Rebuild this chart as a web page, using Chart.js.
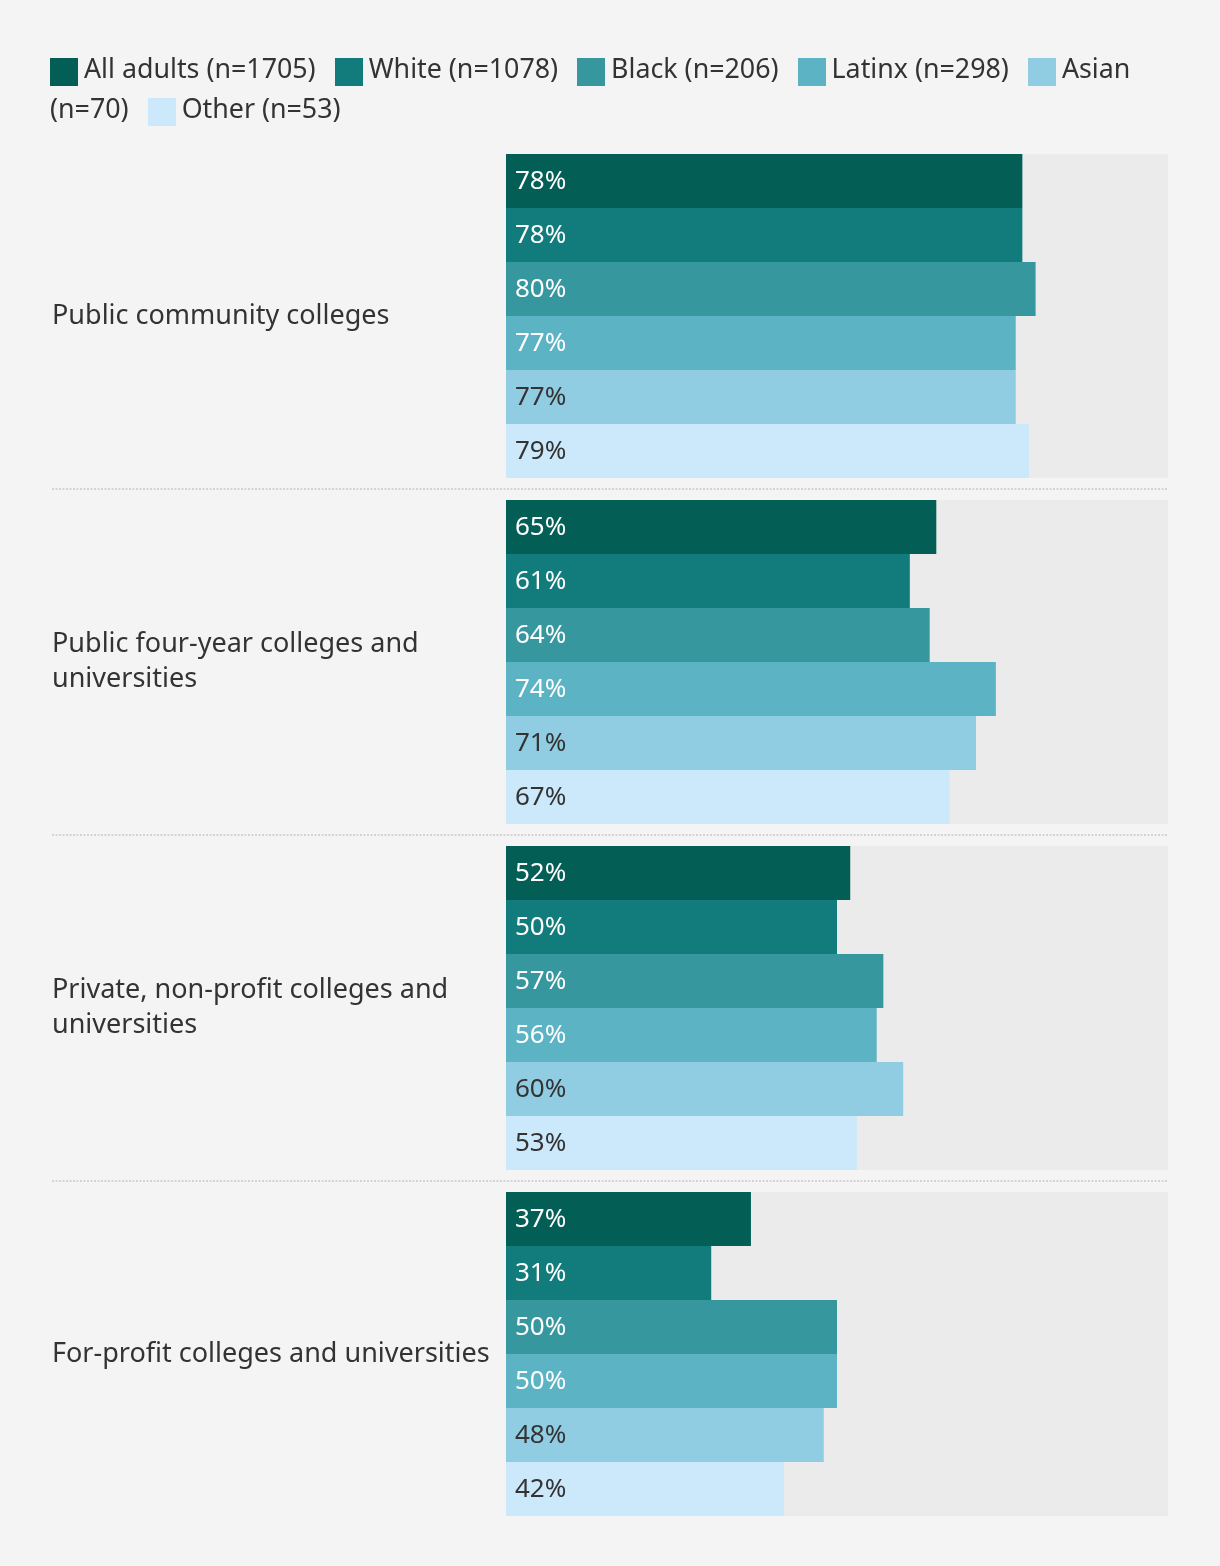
<!DOCTYPE html>
<html>
<head>
<meta charset="utf-8">
<script src="https://cdn.jsdelivr.net/npm/chart.js@4.4.1/dist/chart.umd.min.js"></script>
<style>
  body { margin: 0; background: #f4f4f4; }
  #wrap { position: relative; width: 1220px; height: 1566px; }
  #legend {
    position: absolute; left: 50px; top: 48px; width: 1118px;
    font-family: "Noto Sans"; font-size: 26.8px; line-height: 40px; color: #333;
  }
  #legend .sw {
    display: inline-block; width: 28px; height: 28px;
    vertical-align: -8px; margin-right: 6px;
  }
  canvas { position: absolute; left: 0; top: 0; }
</style>
</head>
<body>
<div id="wrap">
  <canvas id="chart" width="1220" height="1566"></canvas>
  <div id="legend"></div>
</div>
<script>
// Share of adults, by race/ethnicity
const categories = [
    'Public community colleges',
    ['Public four-year colleges and', 'universities'],
    ['Private, non-profit colleges and', 'universities'],
    'For-profit colleges and universities'
];
const seriesNames = ['All adults (n=1705)', 'White (n=1078)', 'Black (n=206)', 'Latinx (n=298)', 'Asian (n=70)', 'Other (n=53)'];
const allAdults = [78, 65, 52, 37];
const white = [78, 61, 50, 31];
const black = [80, 64, 57, 50];
const latinx = [77, 74, 56, 50];
const asian = [77, 71, 60, 48];
const other = [79, 67, 53, 42];
const colors = ['#035f56', '#127b7b', '#37979f', '#5cb3c4', '#90cde3', '#cce8fb'];
const labelColors = ['#fff', '#fff', '#fff', '#fff', '#333', '#333'];

const series = [allAdults, white, black, latinx, asian, other];

// legend (html so it can wrap like the original)
let html = '';
seriesNames.forEach(function(name, i) {
    html += '<span class="sw" style="background:' + colors[i] + (i > 0 ? ';margin-left:19px' : '') + '"></span>' + name;
});
document.getElementById('legend').innerHTML = html;

// grey track behind each group + dotted separators
const panelPlugin = {
    id: 'panels',
    beforeDatasetsDraw(chart) {
        const ctx = chart.ctx;
        const x = chart.scales.x;
        const first = chart.getDatasetMeta(0).data;
        const last = chart.getDatasetMeta(series.length - 1).data;
        ctx.save();
        ctx.fillStyle = '#ebebeb';
        for (let i = 0; i < categories.length; i++) {
            const top = first[i].y - first[i].height / 2;
            const bottom = last[i].y + last[i].height / 2;
            const left = x.getPixelForValue(0);
            ctx.fillRect(left, top, x.getPixelForValue(100) - left, bottom - top);
        }
        ctx.restore();
    },
    afterDatasetsDraw(chart) {
        const ctx = chart.ctx;
        const y = chart.scales.y;
        ctx.save();
        ctx.strokeStyle = '#d3d3d3';
        ctx.lineWidth = 2;
        ctx.setLineDash([2, 1.5]);
        for (let i = 0; i < categories.length - 1; i++) {
            const yy = Math.round((y.getPixelForValue(i) + y.getPixelForValue(i + 1)) / 2);
            ctx.beginPath();
            ctx.moveTo(y.left, yy);
            ctx.lineTo(chart.chartArea.right, yy);
            ctx.stroke();
        }
        ctx.restore();

        // value labels inside the bars
        ctx.save();
        ctx.font = '26px "Noto Sans"';
        ctx.textAlign = 'left';
        ctx.textBaseline = 'alphabetic';
        chart.data.datasets.forEach(function(ds, di) {
            ctx.fillStyle = labelColors[di];
            chart.getDatasetMeta(di).data.forEach(function(bar, j) {
                ctx.fillText(ds.data[j] + '%', bar.base + 9, bar.y + 8);
            });
        });
        ctx.restore();
    }
};

new Chart(document.getElementById('chart'), {
    type: 'bar',
    data: {
        labels: categories,
        datasets: series.map(function(values, i) {
            return {
                label: seriesNames[i],
                data: values,
                backgroundColor: colors[i],
                borderWidth: 0,
                categoryPercentage: 324 / 346,
                barPercentage: 1
            };
        })
    },
    options: {
        indexAxis: 'y',
        responsive: false,
        animation: false,
        layout: { padding: { top: 143, bottom: 39, left: 52, right: 52 } },
        plugins: {
            legend: { display: false },
            tooltip: { enabled: false }
        },
        scales: {
            x: { display: false, min: 0, max: 100 },
            y: {
                grid: { display: false },
                border: { display: false },
                ticks: {
                    crossAlign: 'far',
                    padding: 0,
                    labelOffset: 0,
                    color: '#333',
                    font: { family: 'Noto Sans', size: 27, lineHeight: 1.28 }
                },
                afterFit(scale) { scale.width = 454; }
            }
        }
    },
    plugins: [panelPlugin]
});
</script>
</body>
</html>
